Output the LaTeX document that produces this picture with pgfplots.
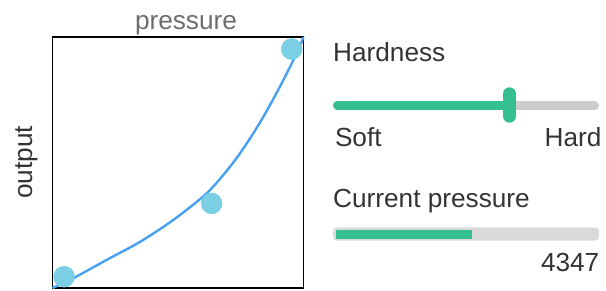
\documentclass[border=0pt]{standalone}
\usepackage{pgfplots}
\pgfplotsset{compat=1.18}
\usepackage{fontspec}
\setmainfont{Liberation Sans}
\definecolor{txt}{RGB}{51,51,51}
\definecolor{ttl}{RGB}{110,110,110}
\definecolor{dotc}{RGB}{122,207,228}
\definecolor{curvec}{RGB}{72,160,240}
\definecolor{grn}{RGB}{52,191,145}
\definecolor{trk}{RGB}{204,204,204}
\definecolor{barg}{RGB}{218,218,218}
\newcommand{\bigf}{\fontsize{26.2}{30}\selectfont}
\begin{document}
\begin{tikzpicture}
\useasboundingbox (0,0) rectangle (606pt,291pt);
% main chart
\begin{axis}[
  scale only axis, width=251pt, height=251pt,
  at={(52.5pt,3pt)}, anchor=south west,
  xmin=0, xmax=1, ymin=0, ymax=1,
  xtick=\empty, ytick=\empty,
  axis line style={line width=1.8pt, black},
  title={pressure},
  title style={at={(0.5,1)}, anchor=base, yshift=1.7pt, xshift=8pt, font=\bigf, text=ttl},
  ylabel={output},
  ylabel style={at={(0,0.5)}, anchor=base, yshift=20pt, font=\bigf, text=txt},
  clip=false,
]
\addplot[curvec, line width=2.4pt, smooth, tension=0.5] coordinates {
 (0.0,0.0) (0.083,0.039) (0.216,0.112) (0.349,0.184) (0.481,0.271)
 (0.614,0.377) (0.707,0.483) (0.774,0.576) (0.840,0.682) (0.906,0.802)
 (0.973,0.935) (1.0,1.0)};
\addplot[only marks, mark=*, mark size=10.5pt, color=dotc, mark options={fill=dotc, draw=dotc}] coordinates {
 (0.046,0.045) (0.634,0.337) (0.953,0.952)};
\end{axis}
% controls panel (pixel coordinates)
\begin{axis}[
  scale only axis, width=606pt, height=291pt,
  at={(0pt,291pt)}, anchor=origin,
  xmin=0, xmax=606, ymin=0, ymax=291, y dir=reverse,
  hide axis, clip=false,
]
\addplot[draw=trk, line width=9pt, line cap=round] coordinates {(337.5,105.5) (594.5,105.5)};
\addplot[draw=grn, line width=9pt, line cap=round] coordinates {(337.5,105.5) (509.4,105.5)};
\addplot[draw=grn, line width=13pt, line cap=round] coordinates {(509.4,93.8) (509.4,116.2)};
\addplot[fill=barg, draw=none, rounded corners=4pt] coordinates {(333,227.3) (599,227.3) (599,240.7) (333,240.7)} -- cycle;
\addplot[fill=grn, draw=none] coordinates {(336,230) (472,230) (472,239) (336,239)} -- cycle;
\node[anchor=base west, inner sep=0pt, font=\bigf, text=txt] at (axis cs:333,62) {Hardness};
\node[anchor=base west, inner sep=0pt, font=\bigf, text=txt] at (axis cs:334.8,146.7) {Soft};
\node[anchor=base east, inner sep=0pt, font=\bigf, text=txt] at (axis cs:601.7,146.7) {Hard};
\node[anchor=base west, inner sep=0pt, font=\bigf, text=txt] at (axis cs:333,207.3) {Current pressure};
\node[anchor=base east, inner sep=0pt, font=\bigf, text=txt] at (axis cs:599.5,271.7) {4347};
\end{axis}
\end{tikzpicture}
\end{document}
